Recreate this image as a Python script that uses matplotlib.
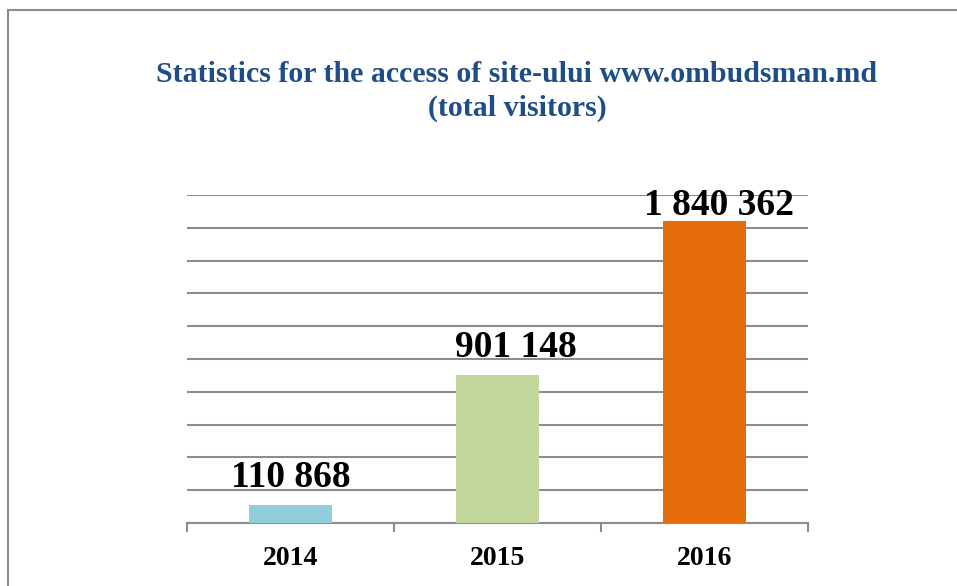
import matplotlib
matplotlib.use("Agg")
import matplotlib.pyplot as plt
from matplotlib.lines import Line2D

# data
years = ["2014", "2015", "2016"]
visitors = [110868, 901148, 1840362]
bar_colors = ["#92CDDC", "#C3D69B", "#E46C0A"]

plt.rcParams['font.family'] = ['Liberation Serif', 'DejaVu Serif']

fig = plt.figure(figsize=(9.57, 5.86), dpi=100)
ax = fig.add_axes([187 / 957, 1 - 523 / 586, 621 / 957, 328 / 586])

x = range(len(years))
ax.bar(x, visitors, width=0.4, color=bar_colors, zorder=3)

ax.set_xlim(-0.5, 2.5)
ax.set_ylim(0, 2000000)
ax.set_yticks(range(0, 2000001, 200000))
ax.grid(axis="y", color="#8c8c8c", linewidth=1.5, zorder=0)
ax.tick_params(axis="y", left=False, labelleft=False)

# category axis with tick marks between categories
ax.set_xticks(list(x))
ax.set_xticklabels(years, fontsize=20, fontweight="bold")
ax.tick_params(axis="x", bottom=False, pad=13)
for b in [-0.5, 0.5, 1.5, 2.5]:
    ax.plot([b, b], [0, -0.024], transform=ax.get_xaxis_transform(),
            color="#8c8c8c", linewidth=1.5, clip_on=False)

for s in ["left", "right", "top"]:
    ax.spines[s].set_visible(False)
ax.spines["bottom"].set_color("#8c8c8c")
ax.spines["bottom"].set_linewidth(1.5)

# value labels (the two higher ones were nudged right in the original)
label_dx = [0, 0.09, 0.07]
for i, v in enumerate(visitors):
    label = f"{v:,}".replace(",", " ")
    y = min(v + 110000, 1878000)
    ax.text(i + label_dx[i], y, label, ha="center", va="baseline", fontsize=27,
            fontweight="bold", color="black", zorder=4)

fig.text(517 / 957, 1 - 75 / 586, "Statistics for the access of site-ului www.ombudsman.md",
         ha="center", va="center", fontsize=21.5, fontweight="bold", color="#1F4E86")
fig.text(517 / 957, 1 - 108 / 586, "(total visitors)",
         ha="center", va="center", fontsize=21.5, fontweight="bold", color="#1F4E86")

# chart border (left and top visible)
fig.add_artist(Line2D([8 / 957, 8 / 957], [0, 1 - 10 / 586], transform=fig.transFigure,
                      color="#8c8c8c", linewidth=1.5))
fig.add_artist(Line2D([8 / 957, 1], [1 - 10 / 586, 1 - 10 / 586], transform=fig.transFigure,
                      color="#8c8c8c", linewidth=1.5))

fig.savefig("out.png", dpi=100)
